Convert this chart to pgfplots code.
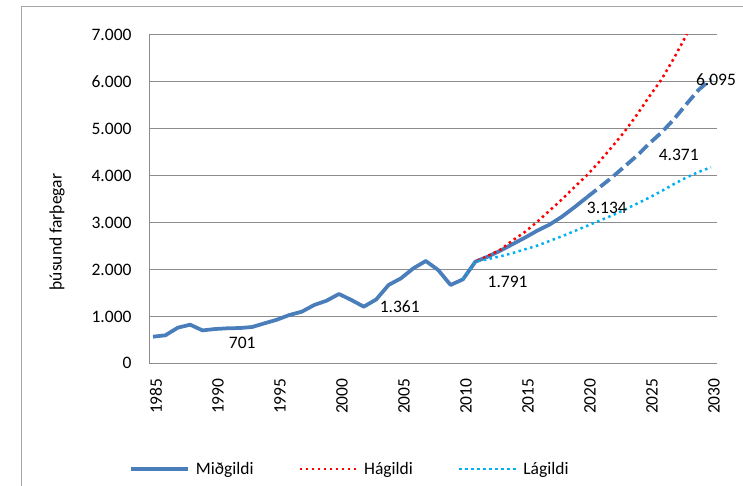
\documentclass[border=0pt]{standalone}
\usepackage{pgfplots}
\pgfplotsset{compat=1.18}
\usepackage{fontspec}
\setmainfont{Carlito}
\definecolor{midblue}{HTML}{4A7EBB}
\definecolor{lowblue}{HTML}{00B0F0}
\definecolor{gridgray}{HTML}{8C8C8C}
\definecolor{framegray}{HTML}{A6A6A6}
\newcommand{\cf}{\fontsize{17.5}{20}\selectfont}
\begin{document}
\begin{tikzpicture}
\useasboundingbox (0pt,0pt) rectangle (743pt,486pt);
\draw[framegray, line width=0.9pt] (21.7pt,0pt) -- (21.7pt,479.3pt) -- (743pt,479.3pt);
\node[rotate=90, font=\cf] at (57pt,254pt) {þúsund farþegar};
\begin{axis}[
  at={(149pt,122.7pt)}, anchor=south west,
  scale only axis, width=567.7pt, height=328.3pt,
  xmin=1984.68, xmax=2030.46, ymin=0, ymax=7000,
  axis x line*=bottom, axis y line*=left,
  axis line style={draw=gridgray, line width=1pt},
  xtick={1985,1990,...,2030}, ytick={0,1000,...,7000},
  ymajorgrids, grid style={draw=gridgray, line width=1pt},
  major tick style={draw=none},
  ticklabel style={font=\cf, text=black},
  /pgf/number format/assume math mode=true,
  /pgf/number format/1000 sep={.},
  yticklabel style={anchor=east, inner sep=0pt, xshift=-17.3pt},
  xticklabel style={/pgf/number format/1000 sep={}, yshift=-15pt, xshift=3pt, rotate=90, anchor=east, inner sep=0pt},
  clip mode=individual,
  legend columns=3,
  legend cell align=left,
  legend style={at={(-0.0405,-0.322)}, anchor=west, draw=none, fill=none, font=\cf,
    /tikz/every odd column/.append style={column sep=4pt},
    /tikz/every even column/.append style={column sep=43pt}},
  legend image code/.code={\draw[#1] (0pt,0pt) -- (57pt,0pt);},
]
\addplot[midblue, line width=3.75pt, line join=round] coordinates {
(1985,567) (1986,597) (1987,759) (1988,823) (1989,701) (1990,731) (1991,746) (1992,752)
(1993,774) (1994,853) (1995,930) (1996,1030) (1997,1100) (1998,1243) (1999,1335) (2000,1478)
(2001,1350) (2002,1207) (2003,1361) (2004,1670) (2005,1812) (2006,2025) (2007,2181) (2008,1989)
(2009,1670) (2010,1791) (2011,2167) (2012,2274) (2013,2400) (2014,2540) (2015,2680) (2016,2830)
(2017,2960) (2018,3130) (2019,3330) (2020,3540)
};
\addlegendentry{Miðgildi}
\addplot[midblue, line width=3.75pt, dash pattern=on 12pt off 5pt, forget plot] coordinates {
(2020,3540) (2021,3750) (2022,3960) (2023,4190) (2024,4420) (2025,4680) (2026,4920)
(2027,5200) (2028,5520) (2029,5830) (2030,6060)
};
\addplot[red, line width=2.5pt, dash pattern=on 2.5pt off 3.5pt] coordinates {
(2010,1791) (2011,2167) (2012,2290) (2013,2420) (2014,2620) (2015,2800) (2016,3020) (2017,3260)
(2018,3500) (2019,3760) (2020,4010) (2021,4300) (2022,4610) (2023,4930) (2024,5290)
(2025,5680) (2026,6050) (2027,6500) (2028,6990) (2029,7500) (2030,8050)
};
\addlegendentry{Hágildi}
\addplot[lowblue, line width=2.5pt, dash pattern=on 2.5pt off 3.5pt] coordinates {
(2010,1791) (2011,2167) (2012,2220) (2013,2280) (2014,2350) (2015,2430) (2016,2510) (2017,2610)
(2018,2710) (2019,2820) (2020,2930) (2021,3040) (2022,3150) (2023,3270) (2024,3400)
(2025,3530) (2026,3670) (2027,3820) (2028,3960) (2029,4080) (2030,4180)
};
\addlegendentry{Lágildi}
\node[font=\cf] at (axis cs:1992.2,433) {701};
\node[font=\cf] at (axis cs:2004.9,1207) {1.361};
\node[font=\cf] at (axis cs:2013.6,1740) {1.791};
\node[font=\cf] at (axis cs:2021.6,3305) {3.134};
\node[font=\cf] at (axis cs:2027.4,4441) {4.371};
\node[font=\cf] at (axis cs:2030.4,6040) {6.095};
\end{axis}
\end{tikzpicture}
\end{document}
